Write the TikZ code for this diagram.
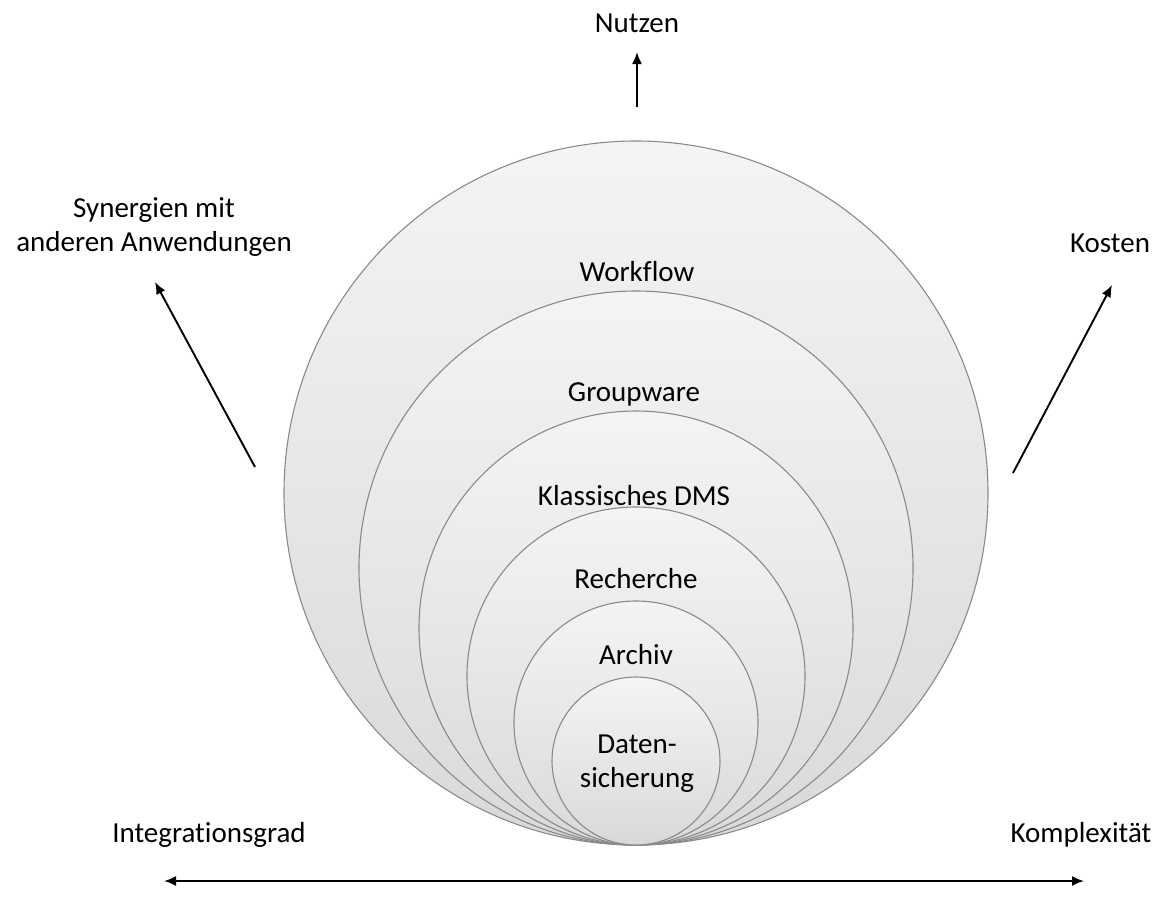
\documentclass[tikz,border=0pt]{standalone}
\usepackage{fontspec}
\setmainfont{Carlito}[Ligatures=NoCommon]
\usetikzlibrary{arrows.meta}
\definecolor{ringline}{HTML}{8A8A8A}
\definecolor{topfill}{HTML}{F4F4F4}
\definecolor{botfill}{HTML}{D9D9D9}
\begin{document}
\begin{tikzpicture}[x=1pt,y=1pt,
  ring/.style={circle,draw=ringline,line width=1.1pt,inner sep=0pt,
    top color=topfill,bottom color=botfill,minimum size=#1},
  lbl/.style={font=\fontsize{29}{35}\selectfont,anchor=base,inner sep=0pt},
  axis/.style={line width=1.9pt,-{Latex[length=12pt,width=10pt]}},
  biaxis/.style={line width=1.9pt,{Latex[length=12pt,width=10pt]}-{Latex[length=12pt,width=10pt]}}]
\useasboundingbox (0,0) rectangle (1162,-916);
% rings (center x 636, tangent at bottom y=845)
\node[ring=704pt] (r1) at (636,-493) {};
\node[ring=554pt] (r2) at (636,-568) {};
\node[ring=434pt] (r3) at (636,-628) {};
\node[ring=338pt] (r4) at (636,-676) {};
\node[ring=244pt] (r5) at (636,-723) {};
\node[ring=168pt] (r6) at (636,-761) {};
% ring labels
\node[lbl] (tWorkflow) at (637,-281) {Workflow};
\node[lbl] (tGroupware) at (634,-401) {Groupware};
\node[lbl] (tDMS) at (634,-505) {Klassisches DMS};
\node[lbl] (tRecherche) at (636,-588) {Recherche};
\node[lbl] (tArchiv) at (636,-664) {Archiv};
\node[lbl] (tDaten) at (637,-753) {Daten-};
\node[lbl] (tSicherung) at (637,-787) {sicherung};
% outer labels
\node[lbl] (tNutzen) at (637,-32) {Nutzen};
\node[lbl] (tSyn1) at (154,-217) {Synergien mit};
\node[lbl] (tSyn2) at (154,-251) {anderen Anwendungen};
\node[lbl] (tKosten) at (1110,-252) {Kosten};
\node[lbl] (tIntegration) at (209,-842) {Integrationsgrad};
\node[lbl] (tKomplex) at (1081,-842) {Komplexität};
% arrow endpoints
\coordinate (nA) at (637,-107);
\coordinate (nB) at (637,-52);
\coordinate (sA) at (255,-467);
\coordinate (sB) at (155,-282);
\coordinate (kA) at (1013,-473);
\coordinate (kB) at (1112,-285);
\coordinate (hA) at (164,-881);
\coordinate (hB) at (1084,-881);
\draw[axis] (nA) -- (nB);
\draw[axis] (sA) -- (sB);
\draw[axis] (kA) -- (kB);
\draw[biaxis] (hA) -- (hB);
\end{tikzpicture}
\end{document}
